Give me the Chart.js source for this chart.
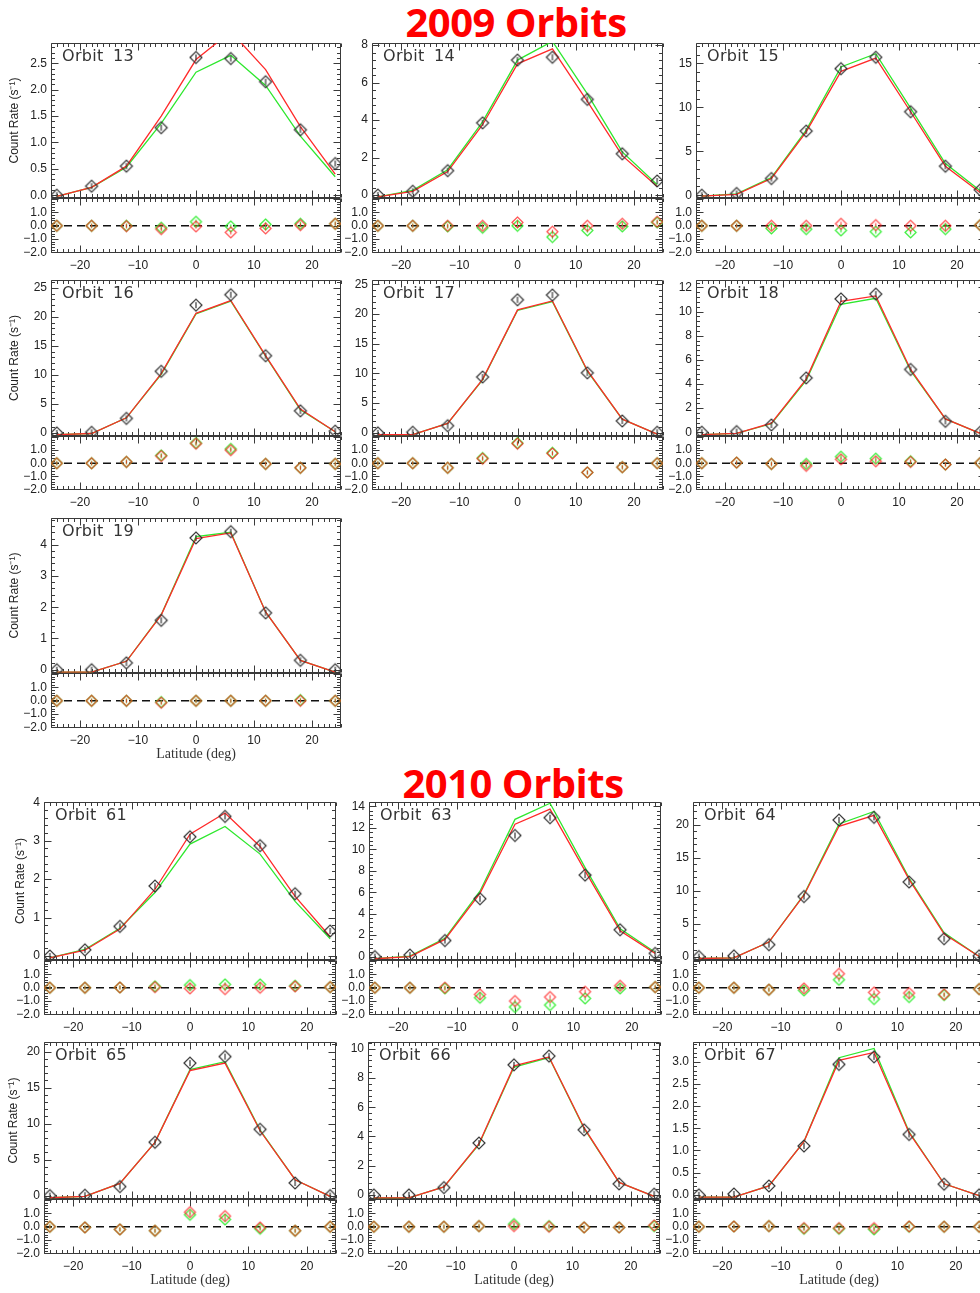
<!DOCTYPE html>
<html><head><meta charset="utf-8">
<script src="https://cdn.jsdelivr.net/npm/chart.js@4"></script>
<style>
html,body{margin:0;padding:0;background:#fff;}
#wrap{position:relative;width:980px;height:1293px;overflow:hidden;background:#fff;}
.cv{position:absolute;}
.big{position:absolute;font-family:'Open Sans',sans-serif;font-weight:700;color:#ff0000;font-size:40px;line-height:1;white-space:nowrap;transform:translateX(-50%);letter-spacing:-0.5px;}
.orb{position:absolute;font-family:'DejaVu Sans',sans-serif;font-size:16px;line-height:16px;color:#333;letter-spacing:0.3px;word-spacing:4px;white-space:nowrap;}
</style></head><body><div id="wrap"></div>
<script>
// ---------- data ----------
const lat = [-24, -18, -12, -6, 0, 6, 12, 18, 24];
const xMin = -25, xMax = 25;
const xTicks = [-20, -10, 0, 10, 20];
const resMin = -2.05, resMax = 2.1;
const resTicks = [-2, -1, 0, 1];

// 2009
const obs13 = [0.0, 0.17, 0.55, 1.28, 2.61, 2.59, 2.15, 1.24, 0.60];
const red13 = [-0.02, 0.15, 0.55, 1.50, 2.57, 3.10, 2.38, 1.30, 0.40];
const grn13 = [-0.02, 0.15, 0.53, 1.36, 2.33, 2.65, 2.08, 1.12, 0.35];
const resR13 = [0, 0, -0.03, -0.25, -0.05, -0.5, -0.2, 0.05, 0.15];
const resG13 = [0, 0, 0, -0.15, 0.3, -0.05, 0.1, 0.15, 0.15];

const obs14 = [0.0, 0.2, 1.3, 3.85, 7.2, 7.35, 5.1, 2.2, 0.75];
const red14 = [-0.1, 0.2, 1.25, 3.75, 7.0, 7.8, 5.0, 2.1, 0.45];
const grn14 = [-0.1, 0.25, 1.35, 3.9, 7.2, 8.2, 5.4, 2.3, 0.55];
const resR14 = [0, 0, 0, 0, 0.25, -0.45, 0, 0.15, 0.3];
const resG14 = [0, 0, -0.05, -0.15, 0, -0.85, -0.35, -0.05, 0.25];

const obs15 = [0.0, 0.2, 1.9, 7.3, 14.4, 15.7, 9.5, 3.3, 0.6];
const red15 = [-0.1, 0.1, 1.9, 7.2, 14.1, 15.6, 9.5, 3.3, 0.3];
const grn15 = [-0.1, 0.15, 2.0, 7.4, 14.6, 16.1, 9.9, 3.6, 0.5];
const resR15 = [0, 0, 0, 0, 0.15, 0.05, 0, 0, 0.05];
const resG15 = [0, 0, -0.2, -0.25, -0.35, -0.45, -0.5, -0.25, 0.05];

const obs16 = [0.0, 0.1, 2.5, 10.6, 22.0, 23.8, 13.3, 3.8, 0.3];
const red16 = [-0.3, -0.1, 2.6, 10.2, 20.6, 22.8, 13.3, 4.1, 0.2];
const grn16 = [-0.3, -0.1, 2.6, 10.1, 20.5, 22.7, 13.2, 4.0, 0.2];
const resR16 = [0, 0, 0.1, 0.55, 1.5, 1.0, -0.05, -0.35, -0.05];
const resG16 = [0, 0, 0.1, 0.6, 1.55, 1.1, -0.05, -0.35, -0.05];

const obs17 = [0.0, 0.1, 1.2, 9.4, 22.4, 23.2, 10.1, 2.0, 0.1];
const red17 = [-0.3, -0.3, 1.6, 9.0, 20.7, 22.2, 10.5, 2.3, -0.2];
const grn17 = [-0.3, -0.3, 1.6, 8.9, 20.6, 22.1, 10.4, 2.3, -0.2];
const resR17 = [0, 0, -0.35, 0.35, 1.5, 0.75, -0.7, -0.3, 0];
const resG17 = [0, 0, -0.35, 0.4, 1.55, 0.8, -0.7, -0.3, 0];

const obs18 = [0.0, 0.05, 0.6, 4.5, 11.05, 11.45, 5.2, 0.9, 0.0];
const red18 = [-0.2, -0.1, 0.75, 4.4, 10.85, 11.3, 5.2, 1.1, -0.1];
const grn18 = [-0.2, -0.1, 0.7, 4.3, 10.6, 11.1, 5.1, 1.1, -0.1];
const resR18 = [0, 0.05, -0.05, -0.2, 0.3, 0.15, 0.1, -0.1, 0.02];
const resG18 = [0, 0.05, -0.05, -0.05, 0.5, 0.35, 0.15, -0.1, 0.02];

const obs19 = [0.0, 0.0, 0.22, 1.58, 4.22, 4.42, 1.82, 0.3, 0.0];
const red19 = [-0.08, -0.08, 0.27, 1.75, 4.2, 4.38, 1.85, 0.3, -0.08];
const grn19 = [-0.08, -0.08, 0.27, 1.76, 4.26, 4.4, 1.85, 0.3, -0.08];
const resR19 = [0, 0, 0, -0.15, 0, 0, 0, 0, 0];
const resG19 = [0, 0, 0, -0.1, 0, 0, 0, 0.05, 0];

// 2010
const obs61 = [0.0, 0.16, 0.77, 1.82, 3.1, 3.63, 2.87, 1.62, 0.65];
const red61 = [-0.05, 0.15, 0.7, 1.73, 3.17, 3.72, 2.85, 1.55, 0.5];
const grn61 = [-0.05, 0.17, 0.72, 1.65, 2.91, 3.37, 2.65, 1.42, 0.45];
const resR61 = [0, 0, 0.02, 0.05, -0.05, -0.1, 0, 0.1, 0.05];
const resG61 = [0, 0, 0.02, 0.1, 0.2, 0.25, 0.25, 0.15, 0.05];

const obs63 = [0.0, 0.15, 1.5, 5.4, 11.3, 12.95, 7.6, 2.5, 0.3];
const red63 = [-0.2, 0.0, 1.6, 5.9, 12.35, 13.75, 8.0, 2.4, 0.3];
const grn63 = [-0.2, 0.05, 1.7, 6.1, 12.8, 14.3, 8.3, 2.6, 0.4];
const resR63 = [0, 0, 0, -0.5, -1.0, -0.7, -0.3, 0.15, 0.05];
const resG63 = [0, 0, -0.05, -0.75, -1.45, -1.3, -0.8, -0.05, 0.05];

const obs64 = [0.0, 0.1, 1.8, 9.1, 20.7, 21.1, 11.3, 2.7, 0.1];
const red64 = [-0.3, -0.2, 2.2, 9.3, 19.75, 21.4, 11.7, 3.4, 0.0];
const grn64 = [-0.3, -0.2, 2.2, 9.4, 20.1, 22.0, 11.9, 3.6, 0.0];
const resR64 = [0, 0, -0.15, -0.05, 1.05, -0.35, -0.4, -0.5, -0.1];
const resG64 = [0, 0, -0.15, -0.2, 0.6, -0.85, -0.7, -0.55, -0.1];

const obs65 = [0.0, 0.05, 1.25, 7.4, 18.4, 19.3, 9.2, 1.75, 0.0];
const red65 = [-0.3, -0.1, 1.7, 7.4, 17.35, 18.4, 9.0, 2.2, -0.1];
const grn65 = [-0.3, -0.1, 1.7, 7.4, 17.5, 18.6, 9.1, 2.2, -0.1];
const resR65 = [0, -0.05, -0.2, -0.3, 1.1, 0.8, -0.05, -0.3, 0];
const resG65 = [0, -0.05, -0.2, -0.3, 0.9, 0.55, -0.15, -0.3, 0];

const obs66 = [0.0, 0.0, 0.5, 3.55, 8.9, 9.5, 4.45, 0.75, 0.05];
const red66 = [-0.2, -0.2, 0.55, 3.5, 8.83, 9.44, 4.6, 0.85, -0.1];
const grn66 = [-0.2, -0.2, 0.55, 3.45, 8.75, 9.4, 4.55, 0.85, -0.1];
const resR66 = [0, 0, 0, 0.05, 0.05, 0, -0.05, -0.05, 0.1];
const resG66 = [0, 0, 0, 0.05, 0.2, 0.05, -0.05, -0.05, 0.05];

const obs67 = [0.0, 0.02, 0.2, 1.1, 2.94, 3.11, 1.36, 0.24, 0.0];
const red67 = [-0.05, -0.05, 0.2, 1.2, 3.03, 3.21, 1.4, 0.25, -0.02];
const grn67 = [-0.05, -0.05, 0.2, 1.2, 3.09, 3.3, 1.42, 0.25, -0.02];
const resR67 = [0, 0.02, 0.05, -0.1, -0.1, -0.1, 0.02, 0, 0];
const resG67 = [0, 0.02, 0.05, -0.15, -0.15, -0.2, 0, 0, 0];

// y axis settings per orbit: [min, max, major step, decimals]
const yAxis13 = [-0.05, 2.88, 0.5, 1];
const yAxis14 = [-0.15, 8.1, 2, 0];
const yAxis15 = [-0.3, 17.3, 5, 0];
const yAxis16 = [-0.5, 26.3, 5, 0];
const yAxis17 = [-0.5, 25.7, 5, 0];
const yAxis18 = [-0.3, 12.6, 2, 0];
const yAxis19 = [-0.1, 4.85, 1, 0];
const yAxis61 = [-0.1, 4.0, 1, 0];
const yAxis63 = [-0.3, 14.4, 2, 0];
const yAxis64 = [-0.5, 23.4, 5, 0];
const yAxis65 = [-0.45, 21.3, 5, 0];
const yAxis66 = [-0.27, 10.45, 2, 0];
const yAxis67 = [-0.09, 3.44, 0.5, 1];

const panels = [
  {orbit:'13', obs:obs13, red:red13, grn:grn13, rr:resR13, rg:resG13, ya:yAxis13},
  {orbit:'14', obs:obs14, red:red14, grn:grn14, rr:resR14, rg:resG14, ya:yAxis14},
  {orbit:'15', obs:obs15, red:red15, grn:grn15, rr:resR15, rg:resG15, ya:yAxis15},
  {orbit:'16', obs:obs16, red:red16, grn:grn16, rr:resR16, rg:resG16, ya:yAxis16},
  {orbit:'17', obs:obs17, red:red17, grn:grn17, rr:resR17, rg:resG17, ya:yAxis17},
  {orbit:'18', obs:obs18, red:red18, grn:grn18, rr:resR18, rg:resG18, ya:yAxis18},
  {orbit:'19', obs:obs19, red:red19, grn:grn19, rr:resR19, rg:resG19, ya:yAxis19},
  {orbit:'61', obs:obs61, red:red61, grn:grn61, rr:resR61, rg:resG61, ya:yAxis61},
  {orbit:'63', obs:obs63, red:red63, grn:grn63, rr:resR63, rg:resG63, ya:yAxis63},
  {orbit:'64', obs:obs64, red:red64, grn:grn64, rr:resR64, rg:resG64, ya:yAxis64},
  {orbit:'65', obs:obs65, red:red65, grn:grn65, rr:resR65, rg:resG65, ya:yAxis65},
  {orbit:'66', obs:obs66, red:red66, grn:grn66, rr:resR66, rg:resG66, ya:yAxis66},
  {orbit:'67', obs:obs67, red:red67, grn:grn67, rr:resR67, rg:resG67, ya:yAxis67}
];

// ---------- layout (plot box: left, right, top, main bottom, residual bottom) ----------
const layouts = {
  '13': {box:[51,341,40,197,253], yw:51, yTitle:true, tOff:7},
  '14': {box:[372,663,40,197,253], yw:34},
  '15': {box:[696,986,40,197,253], yw:34},
  '16': {box:[51,341,277,435,490], yw:51, yTitle:true, tOff:7},
  '17': {box:[372,663,277,435,490], yw:34},
  '18': {box:[696,986,277,435,490], yw:34},
  '19': {box:[51,341,515,672,728], yw:51, yTitle:true, tOff:7, xTitle:true},
  '61': {box:[44,336,799,959,1015], yw:44, yTitle:true, tOff:13},
  '63': {box:[369,661,799,959,1015], yw:34},
  '64': {box:[693,985,799,959,1015], yw:34},
  '65': {box:[44,336,1039,1198,1254], yw:44, yTitle:true, tOff:6, xTitle:true},
  '66': {box:[368,660,1039,1198,1254], yw:34, xTitle:true},
  '67': {box:[693,985,1039,1198,1254], yw:34, xTitle:true}
};
const titles = [['2009 Orbits', 516, 2], ['2010 Orbits', 513, 763]];

// ---------- rendering ----------
Chart.defaults.font.family = "'Liberation Sans', Arial, sans-serif";
Chart.defaults.font.size = 12;
Chart.defaults.color = '#222';

const wrap = document.getElementById('wrap');
titles.forEach(([t, cx, top]) => {
  const d = document.createElement('div'); d.className = 'big'; d.textContent = t;
  d.style.left = cx + 'px'; d.style.top = top + 'px'; wrap.appendChild(d);
});

function fmt(v, d) {
  const s = Math.abs(v).toFixed(d);
  return (v < -1e-9 ? '\u2212' : '') + s;
}
function stepTicks(min, max, step) {
  const out = [];
  for (let n = Math.ceil(min / step - 1e-9); n * step <= max + 1e-9; n++) out.push({value: +(n * step).toFixed(6)});
  return out;
}
function diamondImg(color, half, bar, lw) {
  const s = Math.ceil(half * 2 + 4);
  const c = document.createElement('canvas'); c.width = s; c.height = s;
  const g = c.getContext('2d'); const m = s / 2;
  g.strokeStyle = color; g.lineWidth = lw;
  g.beginPath(); g.moveTo(m - half, m); g.lineTo(m, m - half); g.lineTo(m + half, m); g.lineTo(m, m + half); g.closePath(); g.stroke();
  if (bar) { g.beginPath(); g.moveTo(m, m - bar); g.lineTo(m, m + bar); g.stroke(); }
  return c;
}
const imgObs = diamondImg('#333', 6, 3, 1.2);
const imgRed = diamondImg('rgba(255,30,30,0.8)', 5.5, 2, 1.2);
const imgGrn = diamondImg('#33ee33', 5.5, 2, 1.2);

const frame = {
  id: 'frame',
  beforeDatasetsDraw(chart, args, o) {
    const ctx = chart.ctx, a = chart.chartArea, xs = chart.scales.x;
    const lf = Math.round(a.left) + 0.5, rt = Math.round(a.right) - 0.5;
    ctx.save(); ctx.strokeStyle = '#3a3a3a'; ctx.lineWidth = 1;
    const seg = (x1, y1, x2, y2) => { ctx.moveTo(x1, y1); ctx.lineTo(x2, y2); };
    [['y', o.ystep, 5], ['y2', 1, 5]].forEach(([id, step, num]) => {
      const s = chart.scales[id];
      const tp = Math.round(s.top) + 0.5, bt = Math.round(s.bottom) - 0.5;
      ctx.beginPath();
      ctx.rect(lf, tp, rt - lf, bt - tp);
      const mn = step / num;
      for (let n = Math.ceil(s.min / mn - 1e-6); n * mn <= s.max + 1e-9; n++) {
        const py = Math.round(s.getPixelForValue(n * mn)) + 0.5;
        const len = (n % num === 0) ? 7 : 3.5;
        seg(lf, py, lf + len, py); seg(rt, py, rt - len, py);
      }
      const xmn = 10 / o.xnum;
      for (let n = Math.ceil(xs.min / xmn - 1e-6); n * xmn <= xs.max + 1e-9; n++) {
        const px = Math.round(xs.getPixelForValue(n * xmn)) + 0.5;
        const len = (n % o.xnum === 0) ? 7 : 3.5;
        seg(px, tp, px, tp + len); seg(px, bt, px, bt - len);
      }
      ctx.stroke();
    });
    ctx.restore();
  }
};

function makeChart(p) {
  const lay = layouts[p.orbit];
  const [L, R, T, M, B] = lay.box;
  const yw = lay.yw, xh = lay.xTitle ? 35 : 22, padT = 8, padR = 10;
  const cw = yw + (R - L) + padR, ch = padT + (B - T) + xh;
  const cv = document.createElement('canvas');
  cv.className = 'cv'; cv.width = cw; cv.height = ch;
  Object.assign(cv.style, {left: (L - yw) + 'px', top: (T - padT) + 'px', width: cw + 'px', height: ch + 'px'});
  wrap.appendChild(cv);
  const lbl = document.createElement('div'); lbl.className = 'orb'; lbl.textContent = 'Orbit ' + p.orbit;
  lbl.style.left = (L + 11) + 'px'; lbl.style.top = (T + 8) + 'px'; wrap.appendChild(lbl);

  const pts = arr => lat.map((x, i) => ({x: x, y: arr[i]}));
  const [ymin, ymax, ystep, ydec] = p.ya;
  new Chart(cv, {
    type: 'line',
    data: {datasets: [
      {label: 'data', data: pts(p.obs), yAxisID: 'y', showLine: false, pointStyle: imgObs, pointRadius: 5, order: 0},
      {label: 'model A', data: pts(p.red), yAxisID: 'y', borderColor: '#ff2a2a', borderWidth: 1.3, pointRadius: 0, order: 1},
      {label: 'model B', data: pts(p.grn), yAxisID: 'y', borderColor: '#2ee82e', borderWidth: 1.3, pointRadius: 0, order: 2},
      {label: 'res A', data: pts(p.rr), yAxisID: 'y2', showLine: false, pointStyle: imgRed, pointRadius: 5, order: 3},
      {label: 'res B', data: pts(p.rg), yAxisID: 'y2', showLine: false, pointStyle: imgGrn, pointRadius: 5, order: 4},
      {label: 'zero', data: [{x: xMin, y: 0}, {x: xMax, y: 0}], yAxisID: 'y2', borderColor: '#111', borderWidth: 1.3, borderDash: [8, 5], pointRadius: 0, order: 5}
    ]},
    options: {
      responsive: false, animation: false, devicePixelRatio: 1, events: [],
      layout: {padding: {top: padT, right: padR, left: 0, bottom: 0}},
      plugins: {legend: {display: false}, tooltip: {enabled: false}, frame: {ystep: ystep, xnum: 10}},
      scales: {
        x: {type: 'linear', min: xMin, max: xMax, position: 'bottom',
            grid: {display: false, drawTicks: false}, border: {display: false},
            ticks: {padding: 5, maxRotation: 0, autoSkip: false, callback: v => fmt(v, 0)},
            afterBuildTicks: s => { s.ticks = xTicks.map(v => ({value: v})); },
            title: {display: !!lay.xTitle, text: 'Latitude (deg)', color: '#333', font: {family: "'Liberation Serif', serif", size: 14}, padding: {top: 0, bottom: 0}},
            afterFit: s => { s.height = xh; }},
        y: {type: 'linear', position: 'left', stack: 'p', stackWeight: M - T, weight: 2, min: ymin, max: ymax,
            grid: {display: false, drawTicks: false}, border: {display: false},
            ticks: {padding: 4, autoSkip: false, callback: v => fmt(v, ydec)},
            afterBuildTicks: s => { s.ticks = stepTicks(ymin, ymax, ystep); },
            title: {display: !!lay.yTitle, text: 'Count Rate (s\u207B\u00B9)', color: '#222', font: {size: 12}, padding: {top: lay.tOff || 7, bottom: 0}},
            afterFit: s => { s.width = yw; }},
        y2: {type: 'linear', position: 'left', stack: 'p', stackWeight: B - M, weight: 1, min: resMin, max: resMax,
            grid: {display: false, drawTicks: false}, border: {display: false},
            ticks: {padding: 4, autoSkip: false, callback: v => fmt(v, 1)},
            afterBuildTicks: s => { s.ticks = resTicks.map(v => ({value: v})); },
            afterFit: s => { s.width = yw; }}
      }
    },
    plugins: [frame]
  });
}
panels.forEach(makeChart);
</script>
</body></html>
